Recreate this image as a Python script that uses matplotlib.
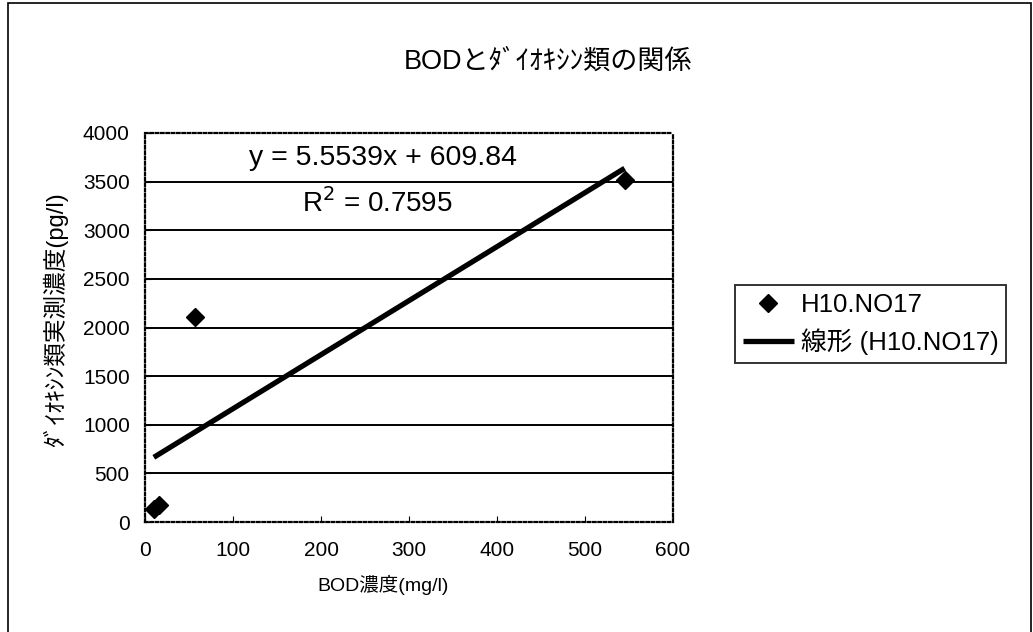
import numpy as np
import matplotlib
matplotlib.use("Agg")
import matplotlib.pyplot as plt
from matplotlib.patches import Rectangle

plt.rcParams['font.family'] = ['Liberation Sans', 'Noto Sans CJK JP', 'DejaVu Sans']

# Data
bod = [10, 16, 57, 545]          # BOD濃度 (mg/l)
dioxin = [130, 180, 2110, 3520]  # ﾀﾞｲｵｷｼﾝ類実測濃度 (pg/l)
series_name = "H10.NO17"
trend_name = "線形 (H10.NO17)"
slope = 5.5539
intercept = 609.84
r2 = 0.7595
x_ticks = [0, 100, 200, 300, 400, 500, 600]
y_ticks = [0, 500, 1000, 1500, 2000, 2500, 3000, 3500, 4000]

fig = plt.figure(figsize=(10.33, 6.32), dpi=100)
ax = fig.add_axes([0.1404, 0.174, 0.5111, 0.6156])

# gridlines
for yv in y_ticks[1:-1]:
    ax.axhline(yv, color='black', lw=1.4, zorder=1)

ax.plot(bod, dioxin, linestyle='none', marker='D', color='black', markersize=9.5,
        label=series_name, zorder=3)
xs = np.array([min(bod), max(bod)])
ax.plot(xs, slope * xs + intercept, color='black', lw=3.8, label=trend_name,
        zorder=2, solid_capstyle='butt')

ax.set_xlim(0, 600)
ax.set_ylim(0, 4000)
ax.set_xticks(x_ticks)
ax.set_yticks(y_ticks)
ax.tick_params(direction='in', length=4, width=0.8, labelsize=15, colors='black')
ax.tick_params(axis='x', pad=14)
ax.tick_params(axis='y', pad=11)
for s in ax.spines.values():
    s.set_linestyle((0, (1.2, 1.2)))
    s.set_linewidth(1.6)
    s.set_color('black')

ax.set_xlabel("BOD濃度(mg/l)", fontsize=14)
ax.xaxis.set_label_coords(0.45, -0.162)
ax.xaxis.label.set_verticalalignment('center')
ax.set_ylabel("ﾀﾞｲｵｷｼﾝ類実測濃度(pg/l)", fontsize=17)
ax.yaxis.set_label_coords(-0.17, 0.52)
ax.yaxis.label.set_verticalalignment('center')

ax.text(0.45, 0.935, f"y = {slope}x + {intercept}", transform=ax.transAxes,
        fontsize=20.5, ha='center', va='center')
ax.text(0.44, 0.82, f"R$^2$ = {r2}", transform=ax.transAxes,
        fontsize=20, ha='center', va='center')

fig.text(0.531, 0.902, "BODとﾀﾞｲｵｷｼﾝ類の関係", fontsize=19.5, ha='center', va='center')

leg = fig.legend(loc='upper left', bbox_to_anchor=(0.7115, 1 - 285 / 632), fontsize=18.5,
                 frameon=True, fancybox=False, edgecolor='black', handlelength=2.0,
                 handletextpad=0.25, borderpad=0.3, labelspacing=0.45, borderaxespad=0)
leg.get_frame().set_linewidth(1.4)

# chart-area border
fig.patches.append(Rectangle((0.008, -0.01), 0.99, 1.006, transform=fig.transFigure,
                             fill=False, edgecolor='black', lw=1.2))

fig.savefig("out.png", dpi=100, facecolor='white')
